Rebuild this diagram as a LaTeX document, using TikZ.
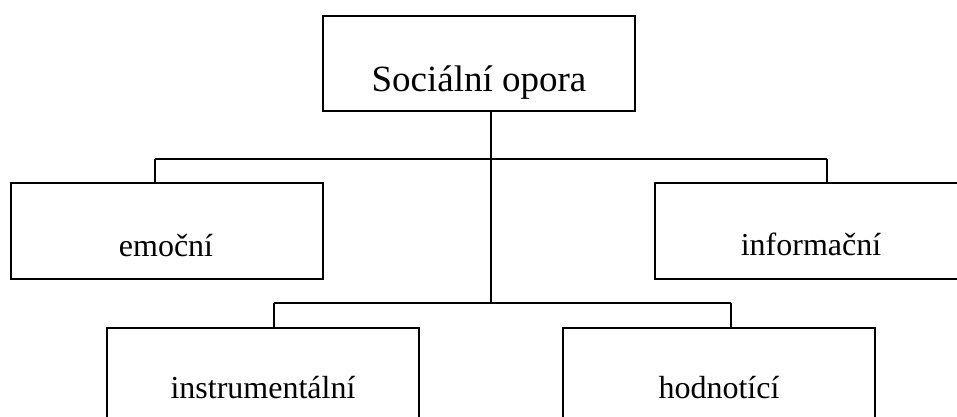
\documentclass[tikz,border=0pt]{standalone}
\usepackage{fontspec}
\setmainfont{Liberation Serif}
\begin{document}
\begin{tikzpicture}[x=1pt,y=-1pt,
  box/.style={draw, line width=1.8pt, rectangle, inner sep=0pt, minimum width=312pt, minimum height=96pt},
  conn/.style={line width=1.8pt},
  big/.style={anchor=base, inner sep=0pt, font=\fontsize{37}{40}\selectfont},
  small/.style={anchor=base, inner sep=0pt, font=\fontsize{32}{36}\selectfont}]
\useasboundingbox (0,0) rectangle (957,417);
\clip (0,0) rectangle (957,417);
\node[box, minimum height=95pt] (soc) at (479,63.5) {};
\node[box] (emo) at (167,231) {};
\node[box] (inf) at (811,231) {};
\node[box] (ins) at (263,376) {};
\node[box] (hod) at (719,376) {};
\node[big] (soct) at (479,92) {Sociální opora};
\node[small] (emot) at (166,256) {emoční};
\node[small] (inft) at (811,255) {informační};
\node[small] (inst) at (263,398) {instrumentální};
\node[small] (hodt) at (719,398) {hodnotící};
\coordinate (upL) at (155,159);
\coordinate (upR) at (827,159);
\coordinate (loL) at (274,303);
\coordinate (loR) at (731,303);
\draw[conn] (upL) -- (upR);
\draw[conn] (loL) -- (loR);
\draw[conn] ([xshift=12pt]soc.south) -- ([xshift=12pt]soc.south |- loL);
\draw[conn] (upL) -- (upL |- emo.north);
\draw[conn] (upR) -- (upR |- inf.north);
\draw[conn] (loL) -- (loL |- ins.north);
\draw[conn] (loR) -- (loR |- hod.north);
\end{tikzpicture}
\end{document}
